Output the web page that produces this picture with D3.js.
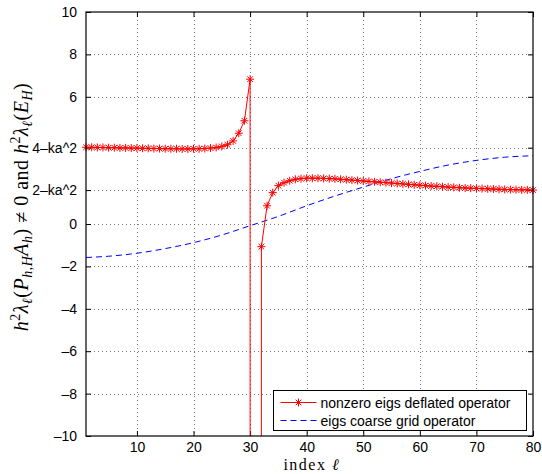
<!DOCTYPE html>
<html lang="en">
<head>
    <meta charset="UTF-8">
    <title>Deflated operator eigenvalues</title>
    <script src="https://cdn.jsdelivr.net/npm/d3@7"></script>
    <style>
        body { margin: 0; background: #fff; }
        .tick-label { font-family: "Liberation Sans", Arial, sans-serif; font-size: 14px; fill: #000; }
        .math { font-family: "Liberation Serif", "DejaVu Serif", serif; fill: #000; }
        .legend-text { font-family: "Liberation Sans", Arial, sans-serif; font-size: 14px; fill: #000; }
    </style>
</head>
<body>
<svg id="main" width="542" height="474"></svg>
<script>
    // data
    let redIndex = d3.range(1, 81);
    let redValues = [3.62, 3.62, 3.61, 3.61, 3.60, 3.60, 3.59, 3.59, 3.58, 3.58,
                     3.57, 3.57, 3.56, 3.56, 3.55, 3.55, 3.55, 3.54, 3.54, 3.55,
                     3.55, 3.56, 3.58, 3.61, 3.66, 3.74, 3.92, 4.28, 4.87, 6.83,
                     -2000, -1.07, 0.86, 1.48, 1.81, 1.95, 2.04, 2.11, 2.14, 2.16,
                     2.16, 2.16, 2.15, 2.14, 2.13, 2.11, 2.09, 2.07, 2.05, 2.03,
                     2.01, 1.99, 1.97, 1.95, 1.93, 1.91, 1.89, 1.87, 1.85, 1.83,
                     1.81, 1.79, 1.78, 1.76, 1.74, 1.73, 1.71, 1.70, 1.69, 1.68,
                     1.67, 1.66, 1.65, 1.64, 1.63, 1.62, 1.62, 1.61, 1.61, 1.60];
    let blueIndex = [1, 5, 10, 15, 20, 25, 30, 35, 40, 45, 50, 55, 60, 65, 70, 75, 80];
    let blueValues = [-1.58, -1.52, -1.38, -1.16, -0.88, -0.52, -0.08, 0.36, 0.86,
                      1.32, 1.74, 2.14, 2.48, 2.78, 3.00, 3.15, 3.22];
    let xTicks = [10, 20, 30, 40, 50, 60, 70, 80];
    let yTicks = [-10, -8, -6, -4, -2, 0, 1.6, 3.6, 6, 8, 10];
    let yTickLabels = ['\u201310', '\u20138', '\u20136', '\u20134', '\u20132', '0', '2\u2013ka^2', '4\u2013ka^2', '6', '8', '10'];
    let seriesNames = ['nonzero eigs deflated operator', 'eigs coarse grid operator'];

    let svg = d3.select('svg#main');
    let plot = {left: 86, right: 533, top: 12, bottom: 436};

    let xScale = d3.scaleLinear().domain([1, 80]).range([plot.left, plot.right]);
    let yScale = d3.scaleLinear().domain([-10, 10]).range([plot.bottom, plot.top]);

    svg.append('rect').attr('width', 542).attr('height', 474).attr('fill', '#fff');

    svg.append('clipPath').attr('id', 'clip')
        .append('rect')
        .attr('x', plot.left).attr('y', plot.top)
        .attr('width', plot.right - plot.left).attr('height', plot.bottom - plot.top);

    // grid
    let grid = svg.append('g').attr('stroke', '#555').attr('stroke-width', 0.8).attr('stroke-dasharray', '1,3');
    grid.selectAll('line.gx')
        .data(xTicks.filter(function(d){return d < 80;}))
        .enter().append('line')
        .attr('x1', function(d){return Math.round(xScale(d)) + 0.5;})
        .attr('x2', function(d){return Math.round(xScale(d)) + 0.5;})
        .attr('y1', plot.top).attr('y2', plot.bottom);
    grid.selectAll('line.gy')
        .data(yTicks.filter(function(d){return d > -10 && d < 10;}))
        .enter().append('line')
        .attr('y1', function(d){return Math.round(yScale(d)) + 0.5;})
        .attr('y2', function(d){return Math.round(yScale(d)) + 0.5;})
        .attr('x1', plot.left).attr('x2', plot.right);

    // axes with inner ticks on all four sides
    let xAxisB = d3.axisBottom(xScale).tickValues(xTicks).tickSize(-5).tickPadding(6).tickFormat(d3.format('d'));
    let xAxisT = d3.axisTop(xScale).tickValues(xTicks).tickSize(-5).tickFormat('');
    let yAxisL = d3.axisLeft(yScale).tickValues(yTicks).tickSize(-5).tickPadding(9)
        .tickFormat(function(d, i){return yTickLabels[i];});
    let yAxisR = d3.axisRight(yScale).tickValues(yTicks).tickSize(-5).tickFormat('');

    function styleAxis(g){
        g.select('.domain').remove();
        g.selectAll('line').attr('stroke', '#000');
        g.selectAll('text').attr('class', 'tick-label').attr('font-size', null).attr('font-family', null);
    }
    svg.append('g').attr('transform', 'translate(0,' + plot.bottom + ')').call(xAxisB).call(styleAxis);
    svg.append('g').attr('transform', 'translate(0,' + plot.top + ')').call(xAxisT).call(styleAxis);
    svg.append('g').attr('transform', 'translate(' + plot.left + ',0)').call(yAxisL).call(styleAxis);
    svg.append('g').attr('transform', 'translate(' + plot.right + ',0)').call(yAxisR).call(styleAxis);

    // series
    let redData = redIndex.map(function(d, i){return [d, redValues[i]];});
    let blueData = blueIndex.map(function(d, i){return [d, blueValues[i]];});

    let line = d3.line()
        .x(function(d){return xScale(d[0]);})
        .y(function(d){return yScale(d[1]);});

    svg.append('path')
        .datum(blueData)
        .attr('clip-path', 'url(#clip)')
        .attr('d', line.curve(d3.curveMonotoneX))
        .attr('fill', 'none')
        .attr('stroke', '#0000ff')
        .attr('stroke-width', 1)
        .attr('stroke-dasharray', '6,4');

    svg.append('path')
        .datum(redData)
        .attr('clip-path', 'url(#clip)')
        .attr('d', line.curve(d3.curveLinear))
        .attr('fill', 'none')
        .attr('stroke', '#ff0000')
        .attr('stroke-width', 1);

    let star = 'M-4,0L4,0M0,-4L0,4M-2.8,-2.8L2.8,2.8M-2.8,2.8L2.8,-2.8';
    svg.append('g').selectAll('path')
        .data(redData.filter(function(d){return d[1] >= -10 && d[1] <= 10;}))
        .enter().append('path')
        .attr('d', star)
        .attr('transform', function(d){return 'translate(' + xScale(d[0]) + ',' + yScale(d[1]) + ')';})
        .attr('stroke', '#ff0000')
        .attr('stroke-width', 1)
        .attr('fill', 'none');

    // box
    svg.append('rect')
        .attr('x', plot.left).attr('y', plot.top)
        .attr('width', plot.right - plot.left).attr('height', plot.bottom - plot.top)
        .attr('fill', 'none').attr('stroke', '#000').attr('stroke-width', 1.2);

    // legend
    let legend = svg.append('g').attr('transform', 'translate(273.5,390.5)');
    legend.append('rect').attr('width', 253).attr('height', 40)
        .attr('fill', '#fff').attr('stroke', '#000').attr('stroke-width', 1);
    legend.append('line').attr('x1', 7).attr('x2', 43).attr('y1', 12).attr('y2', 12)
        .attr('stroke', '#ff0000').attr('stroke-width', 1);
    legend.append('path').attr('d', star).attr('transform', 'translate(25,12)')
        .attr('stroke', '#ff0000').attr('fill', 'none');
    legend.append('line').attr('x1', 7).attr('x2', 43).attr('y1', 30).attr('y2', 30)
        .attr('stroke', '#0000ff').attr('stroke-width', 1).attr('stroke-dasharray', '6,4');
    legend.selectAll('text.lt')
        .data(seriesNames)
        .enter().append('text')
        .attr('class', 'legend-text')
        .attr('x', 47)
        .attr('y', function(d, i){return 17 + i * 18;})
        .text(function(d){return d;});

    // x label
    let xl = svg.append('text').attr('class', 'math')
        .style('font-size', '16px')
        .attr('x', 311).attr('y', 470).attr('text-anchor', 'middle');
    xl.append('tspan').attr('letter-spacing', '1.5px').text('index ');
    xl.append('tspan').attr('font-style', 'italic').text('\u2113');

    // y label
    let yl = svg.append('text').attr('class', 'math')
        .attr('text-anchor', 'middle')
        .style('font-size', '20px')
        .attr('letter-spacing', '0.5px')
        .attr('transform', 'translate(28,207) rotate(-90)');
    let parts = [
        ['h', 'i', 0], ['2', 'n', -8], ['\u03bb', 'i', 0], ['\u2113', 'i', 4], ['(', 'n', 0],
        ['P', 'i', 0], ['h,H', 'i', 4], ['A', 'i', 0], ['h', 'i', 4], [')', 'n', 0],
        [' \u2260 0 and ', 'n', 0],
        ['h', 'i', 0], ['2', 'n', -8], ['\u03bb', 'i', 0], ['\u2113', 'i', 4], ['(', 'n', 0],
        ['E', 'i', 0], ['H', 'i', 4], [')', 'n', 0]
    ];
    let prevShift = 0;
    parts.forEach(function(p){
        let t = yl.append('tspan')
            .attr('dy', p[2] - prevShift)
            .attr('font-style', p[1] === 'i' ? 'italic' : 'normal')
            .text(p[0]);
        if (p[2] !== 0) t.style('font-size', '14px');
        prevShift = p[2];
    });
</script>
</body>
</html>
